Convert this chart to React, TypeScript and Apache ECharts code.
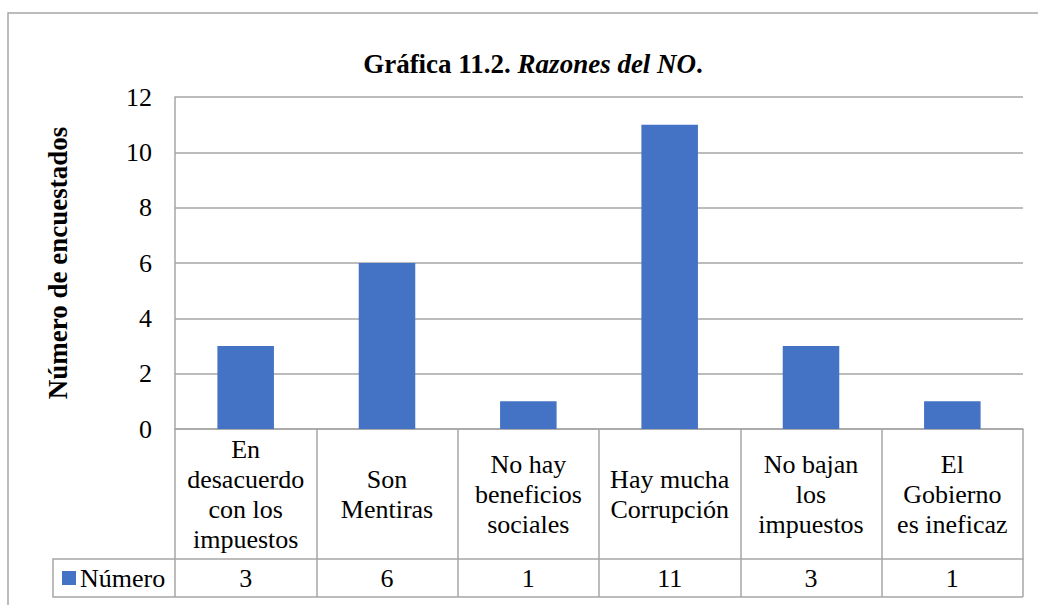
import React, { useEffect, useRef } from "react";
import * as echarts from "echarts";

const categories = [
  "En\ndesacuerdo\ncon los\nimpuestos",
  "Son\nMentiras",
  "No hay\nbeneficios\nsociales",
  "Hay mucha\nCorrupción",
  "No bajan\nlos\nimpuestos",
  "El\nGobierno\nes ineficaz",
];
const values = [3, 6, 1, 11, 3, 1];
const seriesName = "Número";
const yTicks = { min: 0, max: 12, interval: 2 };

const FONT = "Liberation Serif, serif";
const GRID = "#a6a6a6";
const BAR = "#4472C4";

export default function App() {
  const ref = useRef<HTMLDivElement>(null);
  useEffect(() => {
    if (!ref.current) return;
    const chart = echarts.init(ref.current, undefined, { renderer: "svg" });
    const plotLeft = 175, plotRight = 1023, plotTop = 97, plotBottom = 429;
    const tableBottom = 597, catRowBottom = 559, legendLeft = 53;
    chart.setOption({
      animation: false,
      backgroundColor: "#fff",
      textStyle: { fontFamily: FONT, color: "#000" },
      title: {
        left: 528,
        top: 45,
        textAlign: "center",
        text: "{a|Gráfica 11.2. }{b|Razones del NO}{a|.}",
        textStyle: {
          fontFamily: FONT,
          fontWeight: "bold",
          fontSize: 27,
          color: "#000",
          rich: {
            a: { fontFamily: FONT, fontWeight: "bold", fontSize: 27, color: "#000" },
            b: { fontFamily: FONT, fontWeight: "bold", fontStyle: "italic", fontSize: 27, color: "#000" },
          },
        },
      },
      legend: {
        left: 62,
        top: 565,
        padding: 0,
        icon: "rect",
        itemWidth: 14,
        itemHeight: 14,
        itemGap: 5,
        textStyle: { fontFamily: FONT, fontSize: 26, color: "#000", padding: [0, 0, 0, -1] },
        data: [seriesName],
      },
      grid: {
        left: plotLeft,
        right: 1038 - plotRight,
        top: plotTop,
        bottom: 605 - plotBottom,
        containLabel: false,
      },
      xAxis: [
        {
          type: "category",
          data: categories,
          position: "bottom",
          axisLine: { show: true, lineStyle: { color: GRID, width: 1.5 } },
          axisTick: {
            show: true,
            alignWithLabel: false,
            length: tableBottom - plotBottom,
            lineStyle: { color: GRID, width: 1.5 },
          },
          axisLabel: {
            interval: 0,
            margin: (catRowBottom - plotBottom) / 2,
            verticalAlign: "middle",
            align: "center",
            fontFamily: FONT,
            fontSize: 26,
            lineHeight: 30,
            color: "#000",
          },
        },
        {
          type: "category",
          data: categories,
          position: "bottom",
          offset: catRowBottom - plotBottom,
          axisLine: { show: true, lineStyle: { color: GRID, width: 1.5 } },
          axisTick: { show: false },
          axisLabel: {
            interval: 0,
            margin: (tableBottom - catRowBottom) / 2,
            verticalAlign: "middle",
            align: "center",
            fontFamily: FONT,
            fontSize: 26,
            color: "#000",
            formatter: (_v: string, i: number) => String(values[i]),
          },
        },
      ],
      yAxis: {
        type: "value",
        min: yTicks.min,
        max: yTicks.max,
        interval: yTicks.interval,
        name: "Número de encuestados",
        nameLocation: "middle",
        nameRotate: 90,
        nameGap: 104,
        nameTextStyle: { fontFamily: FONT, fontWeight: "bold", fontSize: 27, color: "#000" },
        axisLine: { show: true, lineStyle: { color: GRID, width: 1.5 } },
        axisTick: { show: false },
        splitLine: { show: true, lineStyle: { color: GRID, width: 1.5 } },
        axisLabel: { fontFamily: FONT, fontSize: 26, color: "#000", margin: 23 },
      },
      series: [
        {
          name: seriesName,
          type: "bar",
          data: values,
          xAxisIndex: 0,
          barWidth: "40%",
          itemStyle: { color: BAR },
        },
      ],
      graphic: [
        {
          type: "rect",
          shape: { x: 8, y: 13, width: 1040, height: 610 },
          style: { fill: "none", stroke: GRID, lineWidth: 1.5 },
          silent: true,
        },
        {
          type: "polyline",
          shape: {
            points: [
              [plotLeft, catRowBottom],
              [legendLeft, catRowBottom],
              [legendLeft, tableBottom],
              [plotRight, tableBottom],
            ],
          },
          style: { fill: "none", stroke: GRID, lineWidth: 1.5 },
          silent: true,
        },
      ],
    });
    return () => chart.dispose();
  }, []);
  return (
    <div
      ref={ref}
      style={{ position: "absolute", left: 0, top: 0, width: 1038, height: 605 }}
    />
  );
}
